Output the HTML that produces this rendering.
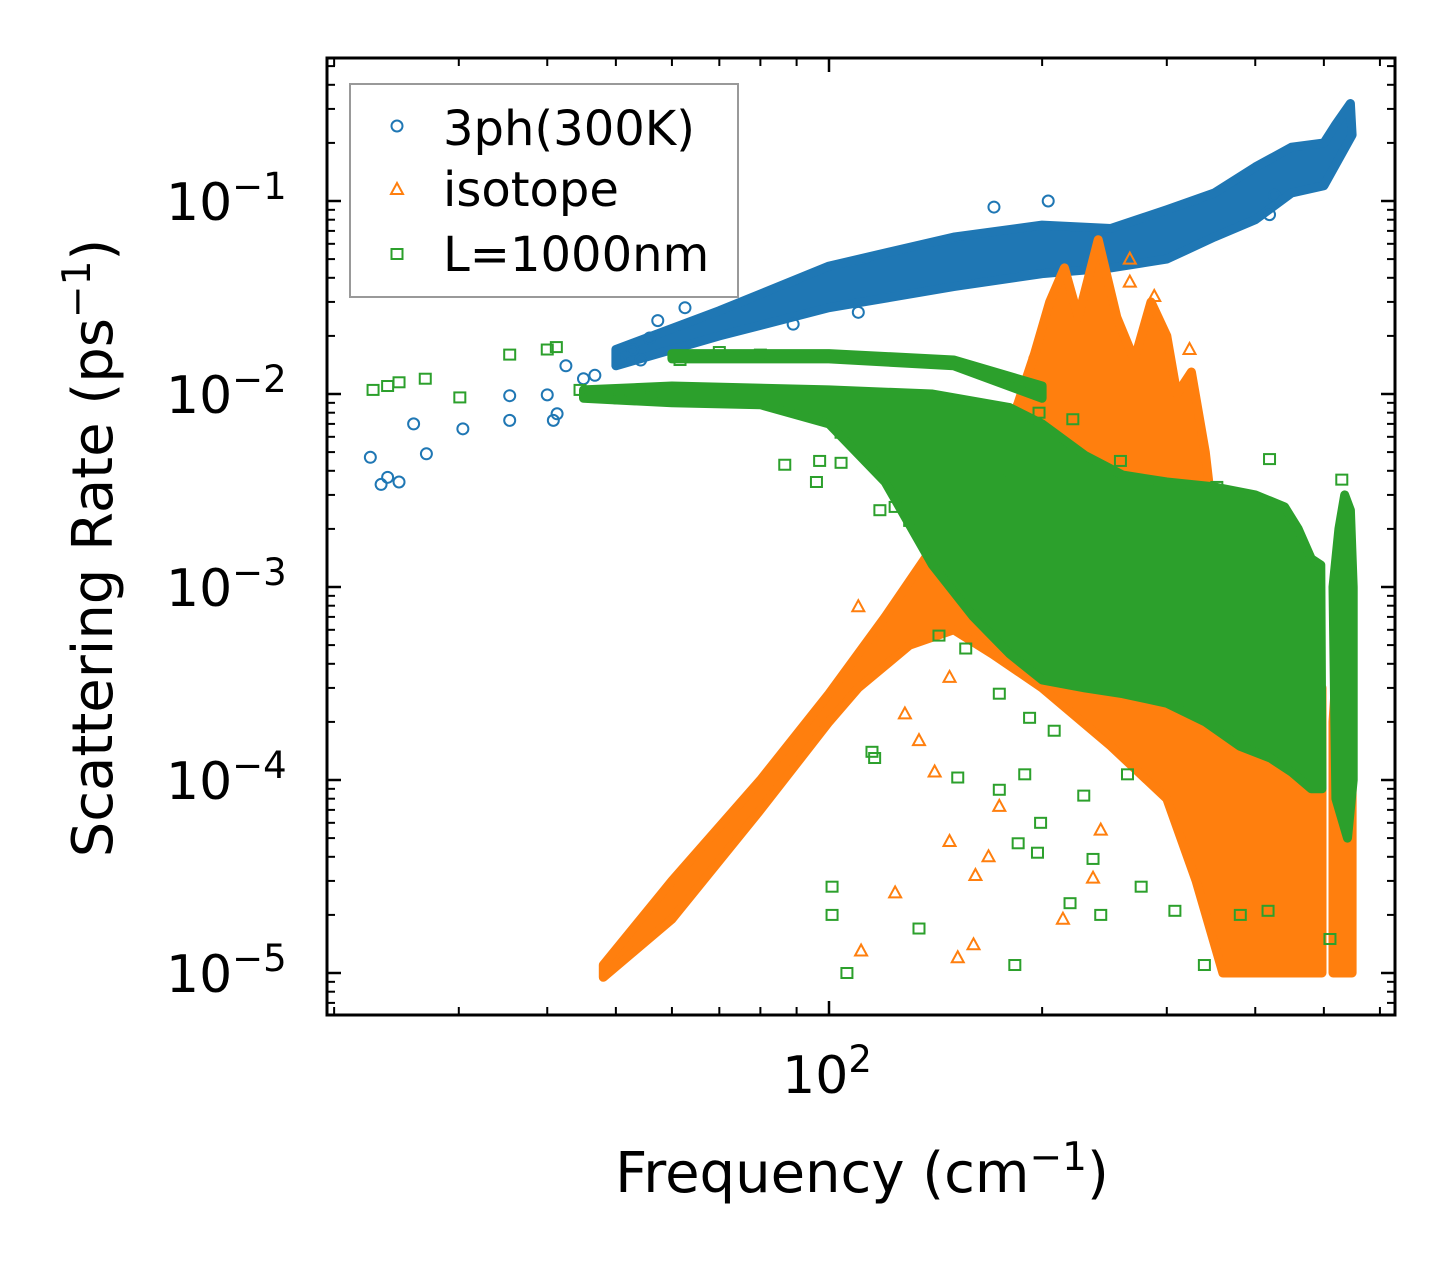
<!DOCTYPE html>
<html><head><meta charset="utf-8"><style>
html,body{margin:0;padding:0;background:#fff}
svg{display:block}
text{font-family:"DejaVu Sans","Liberation Sans",sans-serif;fill:#000}
</style></head><body>
<svg id="chart" width="1455" height="1265" viewBox="0 0 1455 1265" xmlns="http://www.w3.org/2000/svg">
<g id="marks"></g>
<g id="axes"></g>
</svg>
<script>
// ---- data (frequency cm^-1, rate ps^-1) ----
const blueF=[22.5,23.3,23.8,24.7,25.9,27,30.4,35.4,35.4,40.8,41.3,40,42.5,45,46.7,50.7,52.8,55.8,57.3,62.6,54.2,110,89,171,204,426,419];
const blueR=[4.7e-3,3.4e-3,3.7e-3,3.5e-3,7e-3,4.9e-3,6.6e-3,7.3e-3,9.8e-3,7.3e-3,7.9e-3,9.9e-3,1.4e-2,1.2e-2,1.25e-2,1.5e-2,1.7e-2,1.95e-2,2.4e-2,2.8e-2,1.5e-2,2.65e-2,2.3e-2,9.3e-2,0.1,0.107,0.085];
const blueEnvF=[50,70,100,150,200,250,300,350,400,450,500,520,545,548,500,450,400,350,300,250,200,150,100,70,50];
const blueEnvR=[0.017,0.027,0.046,0.065,0.075,0.072,0.09,0.11,0.15,0.19,0.2,0.25,0.32,0.22,0.12,0.11,0.08,0.065,0.05,0.045,0.042,0.036,0.028,0.02,0.014];

const orangeF=[110,128,141,111,124,152,160,148,174,168,161,214,236,242,226,174,148,134,266,266,288,323,196];
const orangeR=[7.9e-4,2.2e-4,1.1e-4,1.3e-5,2.6e-5,1.2e-5,1.4e-5,4.8e-5,7.3e-5,4e-5,3.2e-5,1.9e-5,3.1e-5,5.5e-5,4.9e-4,6e-4,3.4e-4,1.6e-4,5e-2,3.8e-2,3.2e-2,1.7e-2,1.65e-2];
const orangeEnvF=[48,60,80,100,120,140,155,170,185,195,205,215,225,240,255,270,285,300,310,325,340,350,380,497,497,360,330,300,250,200,170,150,130,110,100,80,60,48];
const orangeEnvR=[1.1e-5,3e-5,1e-4,2.8e-4,7e-4,1.6e-3,2.6e-3,4e-3,9e-3,1.6e-2,3e-2,4.5e-2,2.5e-2,6.3e-2,2.5e-2,1.5e-2,3e-2,2e-2,1e-2,1.3e-2,5e-3,2e-3,5e-4,3e-4,1e-5,1e-5,3e-5,8e-5,1.5e-4,3e-4,4.5e-4,6e-4,5e-4,3e-4,2e-4,7e-5,1.9e-5,0.95e-5];
const orangeSpikeF=[515,530,548,548,515];
const orangeSpikeR=[2e-4,1e-3,2e-4,1e-5,1e-5];

const greenF=[101,101,106,115,116,134,152,185,197,183,189,199,219,229,236,242,264,276,308,339,381,417,510,530,392,353,419,258,221,198,174,158,130,124,118,104,96,104,143,156,174,192,208,174,
22.7,23.8,24.7,26.9,30.1,35.4,40,41.2,44.5,50.7,55.8,61.6,70,80,86.6,97];
const greenR=[2.8e-5,2e-5,1e-5,1.4e-4,1.3e-4,1.7e-5,1.03e-4,4.7e-5,4.2e-5,1.1e-5,1.07e-4,6e-5,2.3e-5,8.3e-5,3.9e-5,2e-5,1.07e-4,2.8e-5,2.1e-5,1.1e-5,2e-5,2.1e-5,1.5e-5,3.6e-3,2.3e-3,3.3e-3,4.6e-3,4.5e-3,7.4e-3,8e-3,4e-3,4.2e-3,2.2e-3,2.6e-3,2.5e-3,4.4e-3,3.5e-3,6.3e-3,5.6e-4,4.8e-4,2.8e-4,2.1e-4,1.8e-4,8.9e-5,
1.05e-2,1.1e-2,1.15e-2,1.2e-2,9.6e-3,1.6e-2,1.7e-2,1.75e-2,1.05e-2,9.5e-3,1.05e-2,1.5e-2,1.65e-2,1.6e-2,4.3e-3,4.5e-3];
const greenEnvF=[45,60,100,140,180,200,230,260,300,350,400,440,460,480,495,497,480,450,420,380,340,300,260,230,200,180,160,140,120,100,80,60,45];
const greenEnvR=[1.05e-2,1.1e-2,1.05e-2,1.0e-2,8.5e-3,7e-3,4.8e-3,3.8e-3,3.5e-3,3.3e-3,3e-3,2.6e-3,2e-3,1.4e-3,1.3e-3,9e-5,9e-5,1.1e-4,1.3e-4,1.5e-4,2e-4,2.5e-4,2.8e-4,3e-4,3.3e-4,4.5e-4,7e-4,1.3e-3,3.5e-3,7e-3,8.8e-3,9e-3,9.5e-3];
const greenStrandF=[60,100,150,200,200,150,100,60];
const greenStrandR=[1.62e-2,1.62e-2,1.5e-2,1.1e-2,9.5e-3,1.4e-2,1.52e-2,1.52e-2];
const greenSpikeF=[515,525,535,545,550,550,540,520];
const greenSpikeR=[1e-3,2e-3,3e-3,2.5e-3,1e-3,1e-4,5e-5,8e-5];

const xTickVals=[100];
const yTickExps=[-1,-2,-3,-4,-5];

// ---- axes ----
const L=327,R=1395,T=58,B=1015;
function sx(f){return 829+708*Math.log10(f/100);}
function sy(r){return 201-193*(Math.log10(r)+1);}
const NS="http://www.w3.org/2000/svg";
const marks=document.getElementById('marks'), axes=document.getElementById('axes');
function mk(tag,attrs,parent){const e=document.createElementNS(NS,tag);for(const k in attrs)e.setAttribute(k,attrs[k]);parent.appendChild(e);return e;}

const clip=mk('clipPath',{id:'pc'},document.getElementById('chart'));
mk('rect',{x:L,y:T,width:R-L,height:B-T},clip);
marks.setAttribute('clip-path','url(#pc)');

function env(F,Rv,color,name){
  const pts=F.map((f,i)=>sx(f).toFixed(1)+','+sy(Rv[i]).toFixed(1)).join(' ');
  const p=mk('polygon',{points:pts,fill:color,stroke:color,'stroke-width':9,'stroke-linejoin':'round'},marks);
  
  
}
function circles(F,Rv,color){
  F.forEach((f,i)=>{const c=mk('circle',{cx:sx(f),cy:sy(Rv[i]),r:5.5,fill:'none',stroke:color,'stroke-width':2},marks);
    
    });
}
function tris(F,Rv,color){
  F.forEach((f,i)=>{const x=sx(f),y=sy(Rv[i]);
    const t=mk('polygon',{points:`${x},${y-6.5} ${x-6},${y+4.5} ${x+6},${y+4.5}`,fill:'none',stroke:color,'stroke-width':2},marks);
    
    });
}
function squares(F,Rv,color){
  F.forEach((f,i)=>{const x=sx(f),y=sy(Rv[i]);
    const s=mk('rect',{x:x-5.5,y:y-5,width:11,height:10,fill:'none',stroke:color,'stroke-width':2},marks);
    
    });
}
const CB='#1f77b4',CO='#ff7f0e',CG='#2ca02c';
env(blueEnvF,blueEnvR,CB,'band-3ph');
circles(blueF,blueR,CB);
env(orangeEnvF,orangeEnvR,CO,'band-isotope');
env(orangeSpikeF,orangeSpikeR,CO,'band-isotope-spike');
tris(orangeF,orangeR,CO);
env(greenEnvF,greenEnvR,CG,'band-boundary');
env(greenStrandF,greenStrandR,CG,'band-boundary-strand');
env(greenSpikeF,greenSpikeR,CG,'band-boundary-spike');
squares(greenF,greenR,CG);

// frame
const fr=mk('rect',{x:L,y:T,width:R-L,height:B-T,fill:'none',stroke:'#000','stroke-width':3},axes);


for(let d=10;d<=1000;d*=10){for(let m=1;m<10;m++){const f=m*d;const x=sx(f);if(x<L||x>R)continue;
  const len=m===1?14:8,w=m===1?2.5:2;
  mk('line',{x1:x,y1:B,x2:x,y2:B-len,stroke:'#000','stroke-width':w},axes);
  mk('line',{x1:x,y1:T,x2:x,y2:T+len,stroke:'#000','stroke-width':w},axes);}}
xTickVals.forEach(v=>{const t=mk('text',{x:sx(v)-2,y:1093,'font-size':52,'text-anchor':'middle'},axes);
  
  
  t.innerHTML='10<tspan dy="-21" font-size="37">'+Math.log10(v)+'</tspan>';});
for(let e=-6;e<=0;e++){for(let m=1;m<10;m++){const r=m*Math.pow(10,e);const y=sy(r);if(y<T||y>B)continue;
  const len=m===1?14:8,w=m===1?2.5:2;
  mk('line',{x1:L,y1:y,x2:L+len,y2:y,stroke:'#000','stroke-width':w},axes);
  mk('line',{x1:R,y1:y,x2:R-len,y2:y,stroke:'#000','stroke-width':w},axes);}}
yTickExps.forEach(e=>{const t=mk('text',{x:166,y:sy(Math.pow(10,e))+19,'font-size':52},axes);
  
  
  t.innerHTML='10<tspan dy="-21" font-size="37">\u2212'+Math.abs(e)+'</tspan>';});
</script>
<svg style="position:absolute;left:0;top:0" width="1455" height="1265">
<text x="862" y="1192" font-size="56" text-anchor="middle">Frequency (cm<tspan dy="-22" font-size="39">−1</tspan><tspan dy="22">)</tspan></text>
<text transform="translate(112,548) rotate(-90)" font-size="56" text-anchor="middle">Scattering Rate (ps<tspan dy="-22" font-size="39">−1</tspan><tspan dy="22">)</tspan></text>
<g>
<rect x="350" y="84" width="388" height="213" fill="#fff" fill-opacity="0.8" stroke="#999" stroke-width="2"/>
<g>
<circle cx="397" cy="126" r="5.5" fill="none" stroke="#1f77b4" stroke-width="2"/>
<text x="443" y="145" font-size="48">3ph(300K)</text></g>
<g>
<polygon points="397,183 391,194 403,194" fill="none" stroke="#ff7f0e" stroke-width="2"/>
<text x="443" y="206" font-size="48">isotope</text></g>
<g>
<rect x="391.5" y="249" width="11" height="10" fill="none" stroke="#2ca02c" stroke-width="2"/>
<text x="443" y="271" font-size="48">L=1000nm</text></g>
</g>
</svg>
</body></html>
